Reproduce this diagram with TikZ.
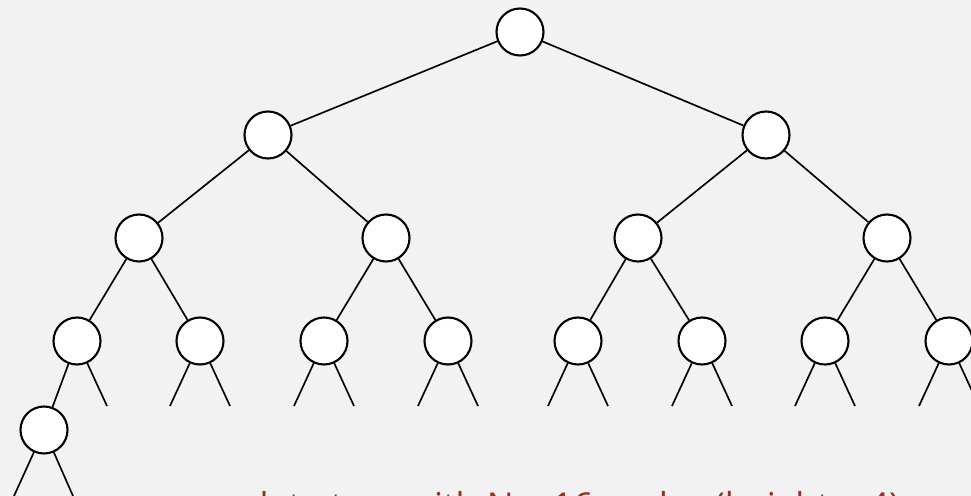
\documentclass[tikz,border=0pt]{standalone}
\usepackage{fontspec}
\setmainfont{Open Sans}
\definecolor{captionred}{RGB}{154,46,34}
\definecolor{slidegray}{RGB}{242,242,242}

\begin{document}
\begin{tikzpicture}[x=0.02cm,y=-0.02cm,
        treenode/.style={circle,draw,fill=white,line width=1.2pt,minimum size=0.94cm,inner sep=0pt},
        link/.style={line width=0.95pt}]
                    \clip (0,0) rectangle (971,496);
                    \fill[slidegray] (0,0) rectangle (971,496);

                    % levels 0 to 4
                    \node[treenode] (n1) at (520,32) {};
                    \node[treenode] (n2) at (268,135) {};
                    \node[treenode] (n3) at (766,135) {};
                    \node[treenode] (n4) at (139,238) {};
                    \node[treenode] (n5) at (386,238) {};
                    \node[treenode] (n6) at (638,238) {};
                    \node[treenode] (n7) at (887,238) {};
                    \node[treenode] (n8) at (77,341) {};
                    \node[treenode] (n9) at (200,341) {};
                    \node[treenode] (n10) at (324,341) {};
                    \node[treenode] (n11) at (448,341) {};
                    \node[treenode] (n12) at (578,341) {};
                    \node[treenode] (n13) at (702,341) {};
                    \node[treenode] (n14) at (825,341) {};
                    \node[treenode] (n15) at (949,341) {};
                    \node[treenode] (n16) at (44,430) {};

                    \draw[link] (n1) -- (n2);
                    \draw[link] (n1) -- (n3);
                    \draw[link] (n2) -- (n4);
                    \draw[link] (n2) -- (n5);
                    \draw[link] (n3) -- (n6);
                    \draw[link] (n3) -- (n7);
                    \draw[link] (n4) -- (n8);
                    \draw[link] (n4) -- (n9);
                    \draw[link] (n5) -- (n10);
                    \draw[link] (n5) -- (n11);
                    \draw[link] (n6) -- (n12);
                    \draw[link] (n6) -- (n13);
                    \draw[link] (n7) -- (n14);
                    \draw[link] (n7) -- (n15);
                    \draw[link] (n8) -- (n16);

                    % empty links
                    \coordinate (e8r) at (107,406);
                    \draw[link] (n8) -- (e8r);
                    \foreach \k/\xk in {9/200,10/324,11/448,12/578,13/702,14/825,15/949}{
                        \coordinate (e\k l) at (\xk-30,406);
                        \coordinate (e\k r) at (\xk+30,406);
                        \draw[link] (n\k) -- (e\k l);
                        \draw[link] (n\k) -- (e\k r);
                    }
                    \coordinate (e16l) at (14,496);
                    \coordinate (e16r) at (73,496);
                    \draw[link] (n16) -- (e16l);
                    \draw[link] (n16) -- (e16r);

                    \node[anchor=base east,text=captionred,inner sep=0pt,font=\fontsize{20.3}{23}\selectfont] (caption) at (900,519) {complete tree with N = 16 nodes (height = 4)};
\end{tikzpicture}
\end{document}
